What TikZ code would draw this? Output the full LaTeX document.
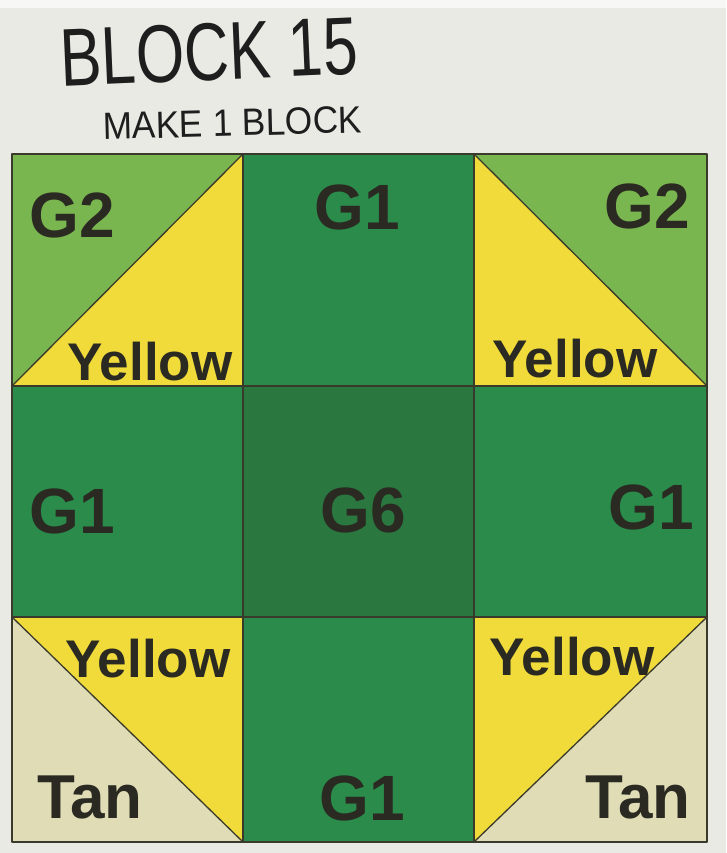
\documentclass[tikz,border=0pt]{standalone}
\usepackage{fontspec}
\setmainfont{Liberation Sans}
\definecolor{paper}{HTML}{EAEAE5}
\definecolor{paperw}{HTML}{F7F7F6}
\definecolor{gtwo}{HTML}{7AB650}
\definecolor{gone}{HTML}{2B8B4B}
\definecolor{gsix}{HTML}{2A7740}
\definecolor{yel}{HTML}{F0DB3A}
\definecolor{tan}{HTML}{E0DDB6}
\definecolor{seamc}{HTML}{3A3A2C}
\definecolor{ink}{HTML}{2A2A22}
\definecolor{pen}{HTML}{1E1E1E}
\begin{document}
\begin{tikzpicture}[x=1pt,y=-1pt,
  seam/.style={draw=seamc, line width=1.3pt, line join=round},
  lbl/.style={text=ink, inner sep=0pt, anchor=base},
  glbl/.style={lbl, font=\fontsize{64}{64}\selectfont\bfseries},
  ylbl/.style={lbl, font=\fontsize{53}{53}\selectfont\bfseries},
  tlbl/.style={lbl, font=\fontsize{62}{62}\selectfont\bfseries},
  hand/.style={text=pen, inner sep=0pt, anchor=base}]
\fill[paper] (0,0) rectangle (726,853);
\fill[paperw] (0,0) rectangle (726,8);
\useasboundingbox (0,0) rectangle (726,853);

% grid coordinates
\coordinate (p00) at (12,154);  \coordinate (p10) at (243,154);
\coordinate (p20) at (474,154); \coordinate (p30) at (707,154);
\coordinate (p01) at (12,386);  \coordinate (p11) at (243,386);
\coordinate (p21) at (474,386); \coordinate (p31) at (707,386);
\coordinate (p02) at (12,617);  \coordinate (p12) at (243,617);
\coordinate (p22) at (474,617); \coordinate (p32) at (707,617);
\coordinate (p03) at (12,842);  \coordinate (p13) at (243,842);
\coordinate (p23) at (474,842); \coordinate (p33) at (707,842);

% top row
\fill[gtwo] (p00) -- (p10) -- (p01) -- cycle;
\fill[yel]  (p10) -- (p11) -- (p01) -- cycle;
\fill[gone] (p10) rectangle (p21);
\fill[gtwo] (p20) -- (p30) -- (p31) -- cycle;
\fill[yel]  (p20) -- (p31) -- (p21) -- cycle;
% middle row
\fill[gone] (p01) rectangle (p12);
\fill[gsix] (p11) rectangle (p22);
\fill[gone] (p21) rectangle (p32);
% bottom row
\fill[yel]  (p02) -- (p12) -- (p13) -- cycle;
\fill[tan]  (p02) -- (p13) -- (p03) -- cycle;
\fill[gone] (p12) rectangle (p23);
\fill[yel]  (p22) -- (p32) -- (p23) -- cycle;
\fill[tan]  (p32) -- (p33) -- (p23) -- cycle;

% seams
\draw[seam] (p00) rectangle (p33);
\draw[seam] (p10) -- (p13);
\draw[seam] (p20) -- (p23);
\draw[seam] (p01) -- (p31);
\draw[seam] (p02) -- (p32);
\draw[seam] (p01) -- (p10);
\draw[seam] (p20) -- (p31);
\draw[seam] (p02) -- (p13);
\draw[seam] (p32) -- (p23);

% labels
\node[glbl] (g2a) at (72,237) {G2};
\node[ylbl] (ya) at (150,380) {Yellow};
\node[glbl] (g1t) at (357,229) {G1};
\node[glbl] (g2b) at (647,228) {G2};
\node[ylbl] (yb) at (575,377) {Yellow};
\node[glbl] (g1l) at (72,533) {G1};
\node[glbl] (g6) at (363,532) {G6};
\node[glbl] (g1r) at (651,529) {G1};
\node[ylbl] (yc) at (148,677) {Yellow};
\node[tlbl] (tana) at (90,818) {Tan};
\node[glbl] (g1b) at (362,820) {G1};
\node[ylbl] (yd) at (572,675) {Yellow};
\node[tlbl] (tanb) at (638,818) {Tan};

% handwritten title
\node[hand, rotate=2.5, xscale=0.76, font=\fontsize{82}{82}\selectfont] (title) at (210,80) {BLOCK 15};
\node[hand, rotate=1.5, xscale=0.93, font=\fontsize{38}{38}\selectfont] (sub) at (233,136) {MAKE 1 BLOCK};
\end{tikzpicture}
\end{document}
